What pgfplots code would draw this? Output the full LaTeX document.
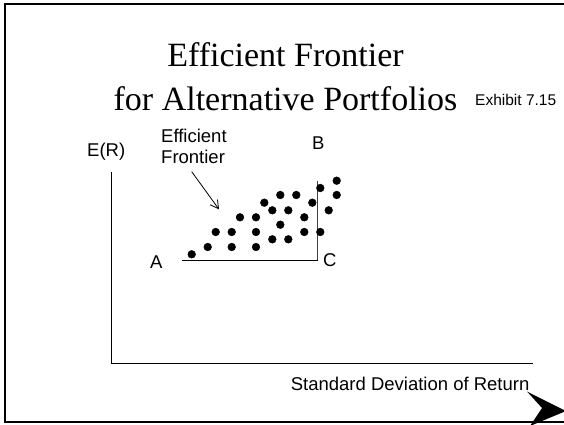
\documentclass[border=0pt]{standalone}
\usepackage{pgfplots}
\pgfplotsset{compat=1.18}
\usepackage{fontspec}
\setmainfont{Liberation Serif}
\newfontfamily\sansf{Liberation Sans}
\usetikzlibrary{arrows.meta}
\begin{document}
\begin{tikzpicture}[x=1pt,y=1pt]
\clip (0,0) rectangle (564,424);
\path[use as bounding box] (0,0) rectangle (564,424);
% frame
\draw[line width=2.4pt] (566,420) -- (5,420) -- (5,2) -- (566,2);
% title
\node[anchor=base,inner sep=0] at (285.5,357.3) {\fontsize{34}{40}\selectfont Efficient Frontier};
\node[anchor=base,inner sep=0] at (285.5,314) {\fontsize{34}{40}\selectfont for Alternative Portfolios};
\node[anchor=base west,inner sep=0] at (475,319) {\sansf\fontsize{15.5}{18}\selectfont Exhibit 7.15};
\begin{axis}[
  at={(111.3pt,61pt)}, anchor=south west,
  width=421.7pt, height=191pt, scale only axis,
  xmin=0, xmax=421.7, ymin=0, ymax=191,
  axis x line=bottom, axis y line=left,
  axis line style={-, line width=1pt, black},
  xtick=\empty, ytick=\empty,
  clip=false,
]
\addplot[black, line width=1pt, mark=none] coordinates {(71,103) (206.4,103)};
\addplot[black!75, line width=1.1pt, mark=none] coordinates {(206.4,103) (206.4,182.3)};
\addplot[only marks, mark=*, mark size=3.9pt, black] coordinates {
(80.4,108.7) (96.4,116) (104.4,131) (120.4,131) (120.4,116)
(128.7,145.7) (144.7,145.7) (144.7,131) (144.7,116) (153,160.3)
(161,152.7) (161,123.7) (169,168) (169,138.3) (177,152.7)
(177,123.7) (185,168) (193,145.7) (193,131) (201,160.3)
(209,175) (209,131) (217.4,152.7) (225.4,182.3) (225.4,168)
};
\draw[-{Straight Barb[length=8pt,width=9pt]}, line width=0.8pt] (axis cs:80.4,191.3) -- (axis cs:107.7,153.7);
\end{axis}
% labels
\node[anchor=base west,inner sep=0] at (87,267.5) {\sansf\fontsize{18.5}{21}\selectfont E(R)};
\node[anchor=base west,inner sep=0] at (161,282) {\sansf\fontsize{18.5}{21}\selectfont Efficient};
\node[anchor=base west,inner sep=0] at (161,261) {\sansf\fontsize{18.5}{21}\selectfont Frontier};
\node[anchor=base west,inner sep=0] at (312,274.5) {\sansf\fontsize{18.5}{21}\selectfont B};
\node[anchor=base west,inner sep=0] at (150,156) {\sansf\fontsize{18.5}{21}\selectfont A};
\node[anchor=base west,inner sep=0] at (323,158) {\sansf\fontsize{18.5}{21}\selectfont C};
\node[anchor=base west,inner sep=0] at (290.6,34) {\sansf\fontsize{18.5}{21}\selectfont Standard Deviation of Return};
% navigation arrow
\fill[black] (527,32.5) -- (566,13) -- (530,-2) -- (542,16) -- cycle;
\end{tikzpicture}
\end{document}
